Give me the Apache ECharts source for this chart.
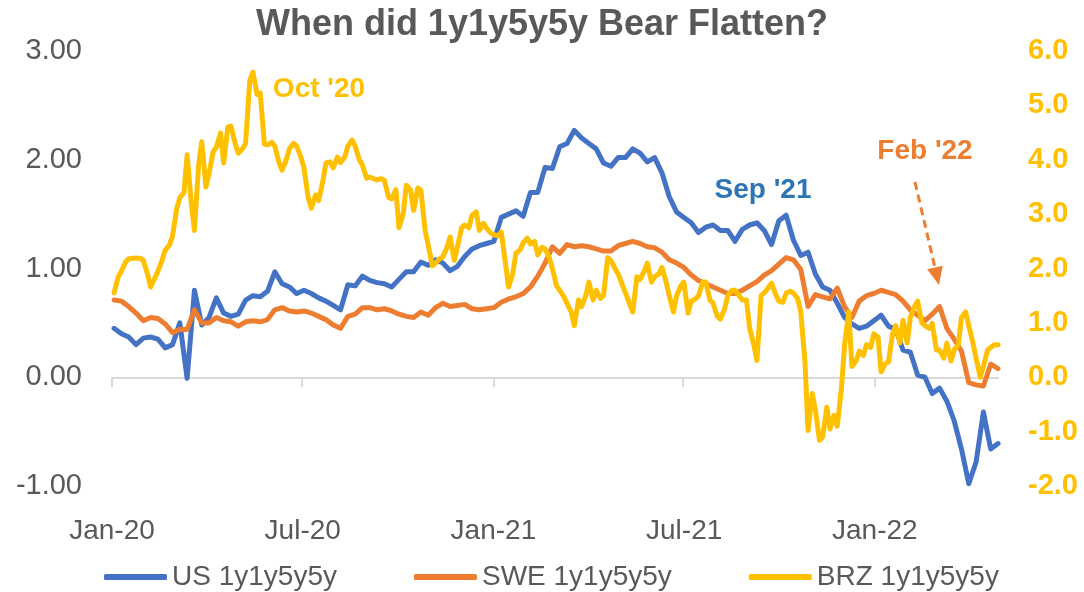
<!DOCTYPE html>
<html><head><meta charset="utf-8">
<script src="https://cdn.jsdelivr.net/npm/echarts@6/dist/echarts.min.js"></script>
<style>html,body{margin:0;padding:0;background:#fff}#c{width:1084px;height:592px}</style>
</head><body><div id="c"></div>
<script>
// Weekly (Friday) observation dates
const dates = [
'2020-01-03','2020-01-10','2020-01-17','2020-01-24','2020-01-31',
'2020-02-07','2020-02-14','2020-02-21','2020-02-28',
'2020-03-06','2020-03-13','2020-03-20','2020-03-27',
'2020-04-03','2020-04-10','2020-04-17','2020-04-24',
'2020-05-01','2020-05-08','2020-05-15','2020-05-22','2020-05-29',
'2020-06-05','2020-06-12','2020-06-19','2020-06-26',
'2020-07-03','2020-07-10','2020-07-17','2020-07-24','2020-07-31',
'2020-08-07','2020-08-14','2020-08-21','2020-08-28',
'2020-09-04','2020-09-11','2020-09-18','2020-09-25',
'2020-10-02','2020-10-09','2020-10-16','2020-10-23','2020-10-30',
'2020-11-06','2020-11-13','2020-11-20','2020-11-27',
'2020-12-04','2020-12-11','2020-12-18','2020-12-25',
'2021-01-01','2021-01-08','2021-01-15','2021-01-22','2021-01-29',
'2021-02-05','2021-02-12','2021-02-19','2021-02-26',
'2021-03-05','2021-03-12','2021-03-19','2021-03-26',
'2021-04-02','2021-04-09','2021-04-16','2021-04-23','2021-04-30',
'2021-05-07','2021-05-14','2021-05-21','2021-05-28',
'2021-06-04','2021-06-11','2021-06-18','2021-06-25',
'2021-07-02','2021-07-09','2021-07-16','2021-07-23','2021-07-30',
'2021-08-06','2021-08-13','2021-08-20','2021-08-27',
'2021-09-03','2021-09-10','2021-09-17','2021-09-24',
'2021-10-01','2021-10-08','2021-10-15','2021-10-22','2021-10-29',
'2021-11-05','2021-11-12','2021-11-19','2021-11-26',
'2021-12-03','2021-12-10','2021-12-17','2021-12-24','2021-12-31',
'2022-01-07','2022-01-14','2022-01-21','2022-01-28',
'2022-02-04','2022-02-11','2022-02-18','2022-02-25',
'2022-03-04','2022-03-11','2022-03-18','2022-03-25',
'2022-04-01','2022-04-08','2022-04-15','2022-04-22','2022-04-29'
];

const usValues = [
0.45,0.40,0.37,0.30,0.36,0.37,0.35,0.27,0.30,0.50,
-0.01,0.80,0.48,0.55,0.73,0.59,0.56,0.58,0.71,0.75,
0.74,0.79,0.97,0.86,0.83,0.77,0.80,0.77,0.73,0.70,
0.66,0.62,0.85,0.84,0.93,0.89,0.87,0.86,0.83,0.90,
0.97,0.97,1.06,1.03,1.08,1.05,0.98,1.02,1.11,1.18,
1.21,1.23,1.25,1.47,1.50,1.53,1.48,1.70,1.70,1.93,
1.92,2.12,2.15,2.27,2.20,2.15,2.10,1.97,1.94,2.02,
2.02,2.10,2.06,1.98,2.02,1.88,1.66,1.52,1.47,1.42,
1.33,1.38,1.40,1.35,1.35,1.25,1.36,1.40,1.42,1.35,
1.22,1.44,1.49,1.26,1.12,1.15,0.95,0.83,0.80,0.68,
0.55,0.49,0.45,0.47,0.52,0.57,0.47,0.44,0.25,0.23,
0.02,0.00,-0.15,-0.10,-0.22,-0.40,-0.66,-0.98,-0.78,-0.32,
-0.66,-0.61
];

const sweValues = [
0.71,0.70,0.65,0.59,0.52,0.55,0.54,0.49,0.41,0.44,
0.44,0.62,0.50,0.50,0.55,0.52,0.51,0.47,0.51,0.52,
0.51,0.53,0.62,0.64,0.61,0.60,0.61,0.59,0.56,0.53,
0.48,0.45,0.56,0.58,0.64,0.64,0.62,0.63,0.61,0.58,
0.56,0.55,0.60,0.57,0.64,0.68,0.65,0.66,0.67,0.63,
0.62,0.63,0.64,0.69,0.72,0.74,0.77,0.83,0.93,1.05,
1.20,1.14,1.22,1.20,1.21,1.20,1.18,1.16,1.16,1.21,
1.23,1.25,1.23,1.20,1.19,1.15,1.08,1.05,1.01,0.94,
0.89,0.86,0.83,0.80,0.77,0.77,0.80,0.84,0.88,0.94,
0.98,1.04,1.10,1.08,0.99,0.65,0.76,0.74,0.72,0.82,
0.65,0.55,0.70,0.75,0.77,0.80,0.78,0.76,0.70,0.62,
0.57,0.52,0.58,0.65,0.45,0.35,0.24,-0.05,-0.07,-0.08,
0.12,0.08
];

// BRZ on Fridays (same dates as above)
const brzValues = [
1.55,1.95,2.18,2.19,2.15,1.66,1.95,2.34,2.60,3.30,
4.09,2.70,4.33,3.75,4.23,3.94,4.62,4.12,4.30,5.61,
5.23,4.27,4.25,3.81,4.20,4.25,3.85,3.11,3.25,3.94,
3.85,3.95,4.25,4.25,3.90,3.68,3.63,3.62,3.28,2.75,
3.53,3.07,3.44,2.43,2.10,2.21,2.58,2.40,2.80,2.98,
2.70,2.74,2.62,2.67,1.66,2.28,2.47,2.45,2.25,2.36,
2.00,1.60,1.36,0.95,1.30,1.75,1.60,1.50,2.15,1.90,
1.55,1.20,1.80,2.10,1.85,2.02,1.50,1.50,1.75,1.40,
1.50,1.75,1.36,1.07,1.50,1.60,1.42,0.90,0.31,1.55,
1.73,1.40,1.55,1.55,1.20,-0.98,-0.60,-1.10,-0.95,-0.90,
0.60,0.20,0.48,0.60,0.80,0.10,0.28,0.95,1.05,1.10,
1.40,0.95,0.99,0.50,0.63,0.50,1.10,0.95,0.35,0.20,
0.55,0.60
];
// BRZ on the Tuesday after each Friday above (BRZ is the most volatile series)
const brzMidweekValues = [
1.85,2.12,2.19,2.19,1.90,1.82,2.15,2.43,3.10,3.40,
3.20,3.90,3.50,4.15,4.49,4.60,4.30,4.20,5.45,5.20,
4.29,4.32,3.95,4.00,4.30,4.05,3.30,3.35,3.60,3.96,
4.05,4.05,4.36,4.00,3.66,3.65,3.65,3.31,3.45,3.00,
3.45,3.48,2.70,2.05,2.18,2.39,2.15,2.75,2.75,3.04,
2.83,2.65,2.60,2.10,1.90,2.34,2.56,2.50,2.39,2.20,
1.68,1.48,1.20,1.42,1.50,1.42,1.45,2.20,2.00,1.70,
1.35,1.85,1.95,1.75,1.90,1.75,1.20,1.68,1.18,1.44,
1.75,1.42,1.12,1.25,1.60,1.50,1.42,0.60,1.50,1.65,
1.52,1.38,1.58,1.45,0.30,-0.30,-1.16,-0.55,-0.70,-0.20,
1.20,0.30,0.40,0.55,0.74,0.25,0.80,0.63,0.63,1.30,
1.00,0.90,0.50,0.35,0.30,0.60,1.20,0.63,0.00,0.50,
0.60
];

const seriesNames = ['US 1y1y5y5y', 'SWE 1y1y5y5y', 'BRZ 1y1y5y5y'];
const xTickDates = ['2020-01-01', '2020-07-01', '2021-01-01', '2021-07-01', '2022-01-01'];
const xTickLabels = ['Jan-20', 'Jul-20', 'Jan-21', 'Jul-21', 'Jan-22'];
const xRange = ['2020-01-01', '2022-04-29'];
const leftRange = [-1, 3];
const rightRange = [-2, 6];
const titleText = 'When did 1y1y5y5y Bear Flatten?';
const noteTexts = ["Oct '20", "Sep '21", "Feb '22"];

const FONT = '"Liberation Sans", Arial, sans-serif';
const GRAY = '#595959';
const BLUE = '#4472C4', ORANGE = '#ED7D31', GOLD = '#FFC000';

// x positions are days since the start of the axis
const DAY = 86400000;
function ts(s) { const p = s.split('-'); return Date.UTC(+p[0], +p[1] - 1, +p[2]); }
const t0 = ts(xRange[0]);
function dayOf(s) { return Math.round((ts(s) - t0) / DAY); }
const tickDays = xTickDates.map(dayOf);
const xMax = dayOf(xRange[1]);
const labelInterval = tickDays[tickDays.length - 1] / (tickDays.length - 1);
function tickLabel(v) {
  let best = -1, bd = Infinity;
  tickDays.forEach((t, i) => { const d = Math.abs(t - v); if (d < bd) { bd = d; best = i; } });
  return bd < 4 ? xTickLabels[best] : '';
}
function pairs(vals) { return dates.map((d, i) => [dayOf(d), vals[i]]); }
function brzPairs() {
  const out = [];
  dates.forEach((d, i) => {
    out.push([dayOf(d), brzValues[i]]);
    if (i < brzMidweekValues.length) out.push([dayOf(d) + 4, brzMidweekValues[i]]);
  });
  return out;
}

const chart = echarts.init(document.getElementById('c'), null, { renderer: 'canvas' });

const arrowTip = [939, 285], arrowStart = [915, 182];
const dx = arrowTip[0] - arrowStart[0], dy = arrowTip[1] - arrowStart[1];
const L = Math.hypot(dx, dy), ux = dx / L, uy = dy / L;
const headLen = 18, headHalf = 8;
const base = [arrowTip[0] - ux * headLen, arrowTip[1] - uy * headLen];

chart.setOption({
  animation: false,
  backgroundColor: '#ffffff',
  title: {
    text: titleText, left: 'center', top: 7, padding: 0,
    textStyle: { fontFamily: FONT, fontSize: 36, fontWeight: 'bold', color: GRAY }
  },
  legend: {
    data: seriesNames, left: 104, top: 563, padding: 0,
    icon: 'roundRect', itemWidth: 63, itemHeight: 6, itemGap: 77,
    textStyle: { fontFamily: FONT, fontSize: 28, color: GRAY }
  },
  grid: { left: 112, right: 86, top: 51, bottom: 106, outerBoundsMode: 'none' },
  xAxis: [
    {
      type: 'value', min: 0, max: xMax, interval: labelInterval, position: 'bottom',
      axisLine: { show: false, onZero: false }, axisTick: { show: false }, splitLine: { show: false },
      axisLabel: { show: true, formatter: tickLabel, margin: 31, showMaxLabel: false, fontFamily: FONT, fontSize: 28, color: GRAY }
    },
    {
      type: 'value', min: 0, max: xMax, position: 'bottom',
      axisLine: { show: true, onZero: true, onZeroAxisIndex: 0, lineStyle: { color: '#D9D9D9', width: 2 } },
      axisTick: { show: true, customValues: tickDays, length: 10, lineStyle: { color: '#D9D9D9', width: 2 } },
      axisLabel: { show: false }, splitLine: { show: false }
    }
  ],
  yAxis: [
    {
      type: 'value', min: leftRange[0], max: leftRange[1], interval: 1, position: 'left',
      axisLine: { show: false }, axisTick: { show: false }, splitLine: { show: false },
      axisLabel: { formatter: v => v.toFixed(2), margin: 30, fontFamily: FONT, fontSize: 29, color: GRAY }
    },
    {
      type: 'value', min: rightRange[0], max: rightRange[1], interval: 1, position: 'right',
      axisLine: { show: false }, axisTick: { show: false }, splitLine: { show: false },
      axisLabel: { formatter: v => v.toFixed(1), margin: 30, fontFamily: FONT, fontSize: 29, fontWeight: 'bold', color: GOLD }
    }
  ],
  series: [
    { name: seriesNames[0], type: 'line', xAxisIndex: 0, yAxisIndex: 0, data: pairs(usValues), showSymbol: false, symbol: 'none',
      lineStyle: { color: BLUE, width: 5, cap: 'round', join: 'round' }, itemStyle: { color: BLUE } },
    { name: seriesNames[1], type: 'line', xAxisIndex: 0, yAxisIndex: 0, data: pairs(sweValues), showSymbol: false, symbol: 'none',
      lineStyle: { color: ORANGE, width: 5, cap: 'round', join: 'round' }, itemStyle: { color: ORANGE } },
    { name: seriesNames[2], type: 'line', xAxisIndex: 0, yAxisIndex: 1, data: brzPairs(), showSymbol: false, symbol: 'none',
      lineStyle: { color: GOLD, width: 5, cap: 'round', join: 'round' }, itemStyle: { color: GOLD } }
  ],
  graphic: [
    { type: 'text', x: 319, y: 89, z: 100, style: { text: noteTexts[0], fill: GOLD, font: 'bold 28px ' + FONT, align: 'center', verticalAlign: 'middle' } },
    { type: 'text', x: 763, y: 190, z: 100, style: { text: noteTexts[1], fill: '#2E75B6', font: 'bold 28px ' + FONT, align: 'center', verticalAlign: 'middle' } },
    { type: 'text', x: 925, y: 151, z: 100, style: { text: noteTexts[2], fill: ORANGE, font: 'bold 28px ' + FONT, align: 'center', verticalAlign: 'middle' } },
    { type: 'line', z: 100, shape: { x1: arrowStart[0], y1: arrowStart[1], x2: base[0], y2: base[1] },
      style: { stroke: ORANGE, lineWidth: 3, lineDash: [8, 5] } },
    { type: 'polygon', z: 100, shape: { points: [
        arrowTip,
        [base[0] + uy * headHalf, base[1] - ux * headHalf],
        [base[0] - uy * headHalf, base[1] + ux * headHalf]
      ] }, style: { fill: ORANGE } }
  ]
});
</script>
</body></html>
